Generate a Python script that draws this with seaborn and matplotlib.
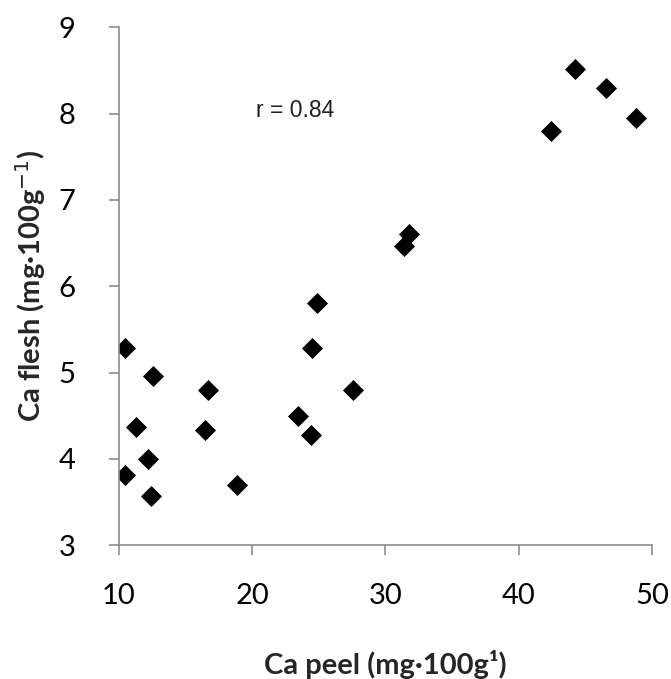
import matplotlib
matplotlib.use("Agg")
import matplotlib.pyplot as plt
import seaborn as sns
import pandas as pd

ca_peel = [10.45, 12.54, 16.72, 11.29, 16.46, 12.19, 10.45, 12.38, 18.87,
           23.41, 24.44, 24.5, 27.6, 24.9, 31.4, 31.77, 42.38, 44.2, 46.56, 48.75]
ca_flesh = [5.29, 4.96, 4.80, 4.37, 4.33, 4.00, 3.81, 3.57, 3.70,
            4.50, 4.28, 5.29, 4.80, 5.81, 6.47, 6.60, 7.80, 8.52, 8.30, 7.95]
x_ticks = [10, 20, 30, 40, 50]
y_ticks = [3, 4, 5, 6, 7, 8, 9]
r_text = "r = 0.84"

df = pd.DataFrame({"peel": ca_peel, "flesh": ca_flesh})

sns.set_theme(style="white")
plt.rcParams['font.family'] = ['Lato', 'DejaVu Sans']

fig = plt.figure(figsize=(6.71, 6.79), dpi=100)
ax = fig.add_axes([0.177, 0.197, 0.795, 0.763])

sns.scatterplot(data=df, x="peel", y="flesh", marker="D", s=115,
                color="black", edgecolor="black", linewidth=0, ax=ax)

ax.set_xlim(10, 50)
ax.set_ylim(3, 9)
ax.set_xticks(x_ticks)
ax.set_yticks(y_ticks)
ax.set_xticklabels([str(v) for v in x_ticks], fontsize=21)
ax.set_yticklabels([str(v) for v in y_ticks], fontsize=21)

for s in ["top", "right"]:
    ax.spines[s].set_visible(False)
for s in ["left", "bottom"]:
    ax.spines[s].set_color("#8c8c8c")
    ax.spines[s].set_linewidth(1.2)

ax.tick_params(axis="both", which="major", direction="out", length=7,
               width=1.2, color="#8c8c8c", labelcolor="black", bottom=True, left=True)
ax.tick_params(axis="x", pad=20)
ax.tick_params(axis="y", pad=24)

ax.set_xlabel("Ca peel (mg·100g¹)", fontsize=21, fontweight="bold", labelpad=30)
ax.set_ylabel("Ca flesh (mg·100g$^{-1}$)", fontsize=21, fontweight="bold", labelpad=8)

ax.text(20.3, 8.04, r_text, fontsize=16.5, va="center", ha="left", color="#222222",
        family=["Liberation Sans", "DejaVu Sans"])

fig.savefig("out.png", dpi=100)
